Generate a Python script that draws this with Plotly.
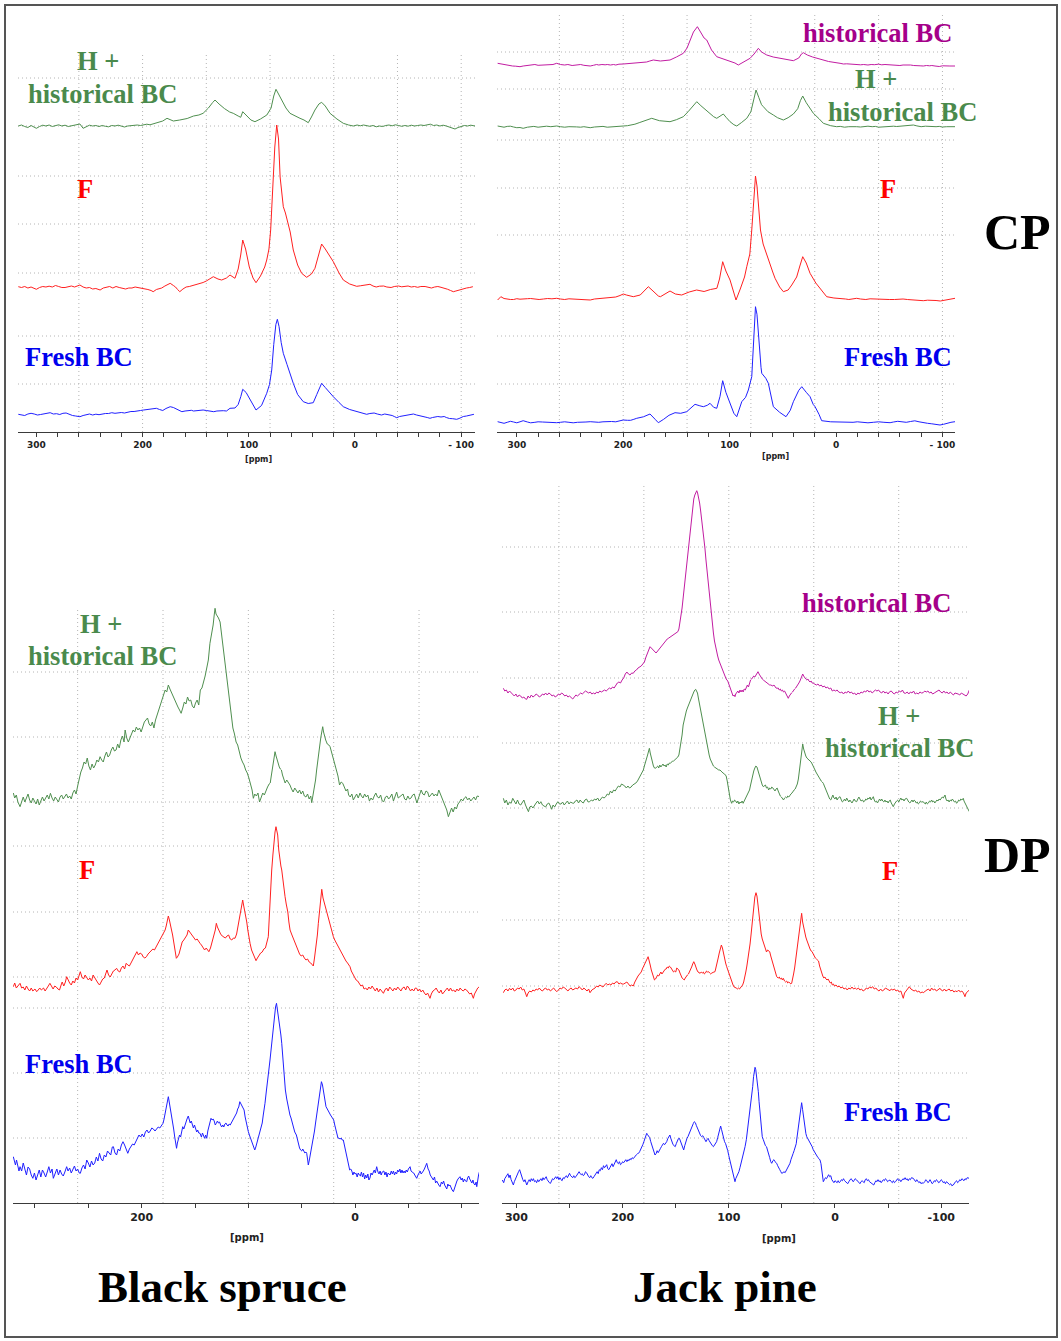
import plotly.graph_objects as go

W, H = 1061, 1341

# ---------------- spectra: (ppm, intensity a.u.) ----------------
# CP, black spruce
CP_BS_HBC = [(317,0),(314,1),(311,-0.5),(308,-1.5),(305,0.5),(302,-1),(300,-2.3),(297,-0.5),(294,0.8),(291,0),(288,1),(285,-0.5),(282,0.5),(279,1.2),(276,0),(273,0.8),(270,-0.5),(267,0),(264,1),(261,1.5),(259,2),(256,-2.3),(253,-0.5),(250,0.8),(247,0),(244,0.5),(241,-0.5),(238,0.5),(235,-0.3),(232,-0.8),(229,0.5),(226,0),(223,0.8),(220,-0.5),(217,-1),(214,0),(211,0.5),(208,0.3),(205,1),(202,0.5),(199,1),(196,1.8),(193,1.2),(190,2),(186,3),(181,5),(177,7.7),(171,5),(165,6),(158,7.5),(152,10),(147,11),(143,12.7),(138,18),(134,23.5),(131.8,26),(128,22),(123,17.5),(118,14),(114.6,12.7),(110,10),(107.6,8.7),(105.7,14.3),(102,10),(98,6),(94.2,4.3),(89,7),(83,11),(79,18),(76.5,30),(74.4,36.7),(72,32),(69,26),(65,18),(61.2,12.7),(56,9.5),(51.8,7.7),(48,6),(44,3.3),(41,9),(37.7,16),(34,22),(31.4,23.7),(28,20),(23.5,12.7),(17,7),(11,2.7),(6,1),(1.6,0),(-2,1),(-5,0.2),(-8,1),(-11,0.5),(-14,-0.3),(-17,0.5),(-20,-0.8),(-23,0),(-26,-0.5),(-29,0.5),(-32,1),(-35,0.2),(-38,1.2),(-41,0.5),(-44,-0.3),(-47,0.5),(-50,-0.2),(-53,0.8),(-56,0),(-59,0.5),(-62,1),(-65,0.5),(-68,1.2),(-71,1.8),(-74,0.5),(-77,1),(-80,0),(-83,0.8),(-86,0),(-89,-1),(-92,-2),(-94.2,-3),(-97,-1.5),(-100,-0.5),(-103,0.5),(-106,0),(-109,0.8),(-113,0)]
CP_BS_F = [(317,0.3),(314,-0.5),(311,0.5),(308,-1),(305,0),(302,-1.5),(300,-2.3),(297,-0.5),(294,0.5),(291,0),(288,0.8),(285,0),(282,1.5),(279,0.5),(276,-0.5),(273,-0.5),(270,0.5),(267,1),(264,0),(261,1.5),(259,2),(256,0),(253,-1),(250,-0.5),(247,-2),(244,-1.5),(241,-2.5),(240,-3),(237,-1),(234,0),(231,0.5),(228,-1),(225,0.5),(222,-0.5),(219,-1.5),(216,-2),(213,-1),(210,-1),(207,0),(204,-0.5),(201,-1),(198,-1.5),(195,-2.5),(192,-3.5),(190,-4.7),(187,-2.5),(184,-1.5),(182,-1),(179,1),(177,2),(174,3.7),(171,1.5),(169,0),(167,-2.5),(165,-4.7),(162,-2),(159,0),(156,0.5),(152,1.5),(149,2.5),(146,3.7),(143,4.5),(140,6),(133.4,10.3),(129,8),(125.5,7),(121,9),(117.7,12),(113,8.7),(110,18),(107.6,32),(105.7,47),(103,38),(99.5,20),(96,9),(93.2,4.3),(89,11),(85,20),(83.1,27),(81,38),(79.4,57),(77.5,100),(75.5,140),(73.7,162),(72,148),(70.5,110),(69,92),(67.5,80.3),(65.5,74),(63.7,67),(61,55),(58.1,37),(54,22),(50.2,13.7),(45.5,9.7),(41,13),(37.7,18.7),(34,33),(31.4,43),(28,38),(24,31),(20.4,25.3),(15,14),(11,7),(5,3),(-1.6,0.7),(-5,1.2),(-8,1.5),(-11,2),(-14.1,2.7),(-17,1),(-20,0),(-23,0.8),(-27,1),(-30,0),(-34,-0.5),(-37,0.5),(-41,1),(-44,0.2),(-47,0.8),(-50,1),(-53,0),(-56,0.5),(-59,-0.3),(-62,0.5),(-66,0.5),(-69,-0.5),(-72,-1),(-75,0),(-78,0.5),(-81,-0.3),(-84,-1),(-87,-2.2),(-90,-3.5),(-92.6,-4.7),(-95,-4),(-98,-3),(-101,-2),(-105,-1),(-108,-0.5),(-111,0.3)]
CP_BS_FRESH = [(317,0.2),(314,-0.5),(311,-1),(308,0.5),(305,1.2),(302,0.5),(299,-0.5),(296,0),(293,0.8),(290,1.2),(287,1.8),(284,0.5),(281,0.8),(278,0),(275,1.2),(272,1.5),(269,0),(266,-1),(263,-1.5),(260,-2),(259,-2.2),(256,-1),(253,0),(250,0.5),(247,-0.5),(244,0.3),(241,-0.2),(238,0.5),(235,1),(232,1),(229,1.8),(226,1.2),(223,1.8),(220,2),(217,1.5),(214,2.5),(211,3),(208,3),(205,3.8),(202,4),(199,4.5),(196,5),(193,5.5),(190,5.8),(187,6.2),(184,5),(181,4),(178,6),(176,7),(174,7.8),(171,7),(169,6),(166,4.5),(163,2.8),(160,3.5),(157,4),(154,4.2),(152,3.5),(149,4),(146,4.5),(143,4.5),(140,4),(137,3.5),(133,2.8),(130,3.5),(127,4),(124,3.8),(121,3.5),(119,5),(117.7,6.2),(113,6.5),(110,10),(107.5,18),(105.7,25.2),(102.5,22),(99.5,16.2),(96,9),(93.2,4.5),(88,9),(83.1,21.2),(80.5,30),(78.4,44.5),(76.5,70),(74.5,90),(73.1,95.2),(71.5,88),(69.5,72),(67.5,61.2),(64,50),(61,40),(58.1,31.2),(54,20),(48.7,12.8),(44,11),(39.3,11.8),(36,20),(33,28),(31.4,31.2),(28,27),(24,22),(20.4,17.8),(15,12),(11,7.8),(5,5),(-1.6,2.8),(-4,2),(-6,1.5),(-9,1),(-11,0.2),(-14,1),(-18,1.5),(-21,0.5),(-25,-0.5),(-28,0.5),(-32,0),(-35,-1),(-37,-2),(-39.3,-3.2),(-42,-2),(-45,-1.5),(-47,-1),(-50,0),(-53,0.5),(-55,0.5),(-58,-0.5),(-61,-1),(-63,-1.5),(-66,-2.5),(-68,-3),(-70.6,-3.8),(-73,-3),(-76,-2.5),(-78,-2),(-81,-2.5),(-84,-2),(-86,-3),(-89,-4),(-92,-4.2),(-95.7,-4.8),(-98,-4),(-100,-3),(-102,-2),(-105,-1.5),(-108,-0.5),(-110,0),(-112,0.2)]

# CP, jack pine
CP_JP_HIST = [(318,1.7),(315,1),(312,0.5),(310,0.5),(307,-0.5),(304,-1),(301,-1.2),(297,-1.7),(294,-1),(290,-0.5),(287,0),(283,0.5),(280,-0.3),(276,0),(273,0.5),(269,1),(266,0.5),(262.5,1.7),(259,0.5),(255,0),(252,0.5),(248,-0.5),(245,0),(242,0.3),(240,0.5),(237,-0.3),(234,-0.5),(231,-1),(228,-0.3),(225,0.5),(223,0),(220,0.5),(217,0.2),(215,0.5),(212,0),(209,0.5),(207,0),(204,0.8),(200,1),(197,1.2),(194,1.5),(192,1.5),(189,2),(185,2),(182,2.5),(178,3),(175,4),(171.7,5),(165,4),(160,4.5),(156,5),(150,8),(143.5,11.7),(140,17),(137.2,25),(134,33),(130.3,38.3),(127,33),(124,27),(121.5,25),(117,15),(112.1,8.3),(106,6),(99.6,4.3),(95,2),(91.8,0),(87,3),(83,5),(80.8,6.7),(77,11),(73,16.7),(70,13),(65.1,10),(59,8),(52.6,6.7),(46,5),(40.1,4.3),(35,7),(32.5,11),(30.7,12.3),(27,10),(22,8),(15,5.7),(7,3.5),(-3.8,1.7),(-7,1),(-10,1.2),(-12,1),(-15,0.5),(-19.4,0.7),(-23,0.2),(-26,0.5),(-30,0),(-33,0.5),(-36,0.3),(-40,0.8),(-43,0.2),(-46,0.5),(-50.8,0),(-54,0.3),(-57,-0.3),(-60,-0.5),(-63,0),(-66,0.3),(-70,0),(-73,-0.5),(-76,-0.3),(-79,-0.8),(-82,-1),(-85,-0.5),(-88,-0.8),(-90,-0.5),(-93,-1),(-97,-1.5),(-100,-0.8),(-104,-0.5),(-107,-1),(-111.8,-1)]
CP_JP_HBC = [(318,0.7),(315,0),(312,-0.5),(309,0.3),(306,0.5),(303,-0.3),(300,-1),(297,-0.8),(294,-1.6),(290,-0.5),(287,0),(284,0.3),(280,-0.5),(276,0),(272,0.5),(268,0),(265,0.5),(262.5,0.7),(259,0),(255,-0.5),(251,0),(247,0.3),(244,-0.2),(240,-0.5),(237,0),(234,-0.5),(231,-1),(227,-0.3),(223,0),(219,0.3),(215,-0.5),(211,0),(207,0.5),(203,0.3),(200,0.7),(196,1),(193,1.5),(189,2.5),(185,4),(179,6),(173.2,8.4),(166,6),(160,5.5),(156,5),(150,7),(143.5,10),(139,15),(135,20),(130.9,25),(127,21),(122,16),(118.4,13.4),(115,10),(112.1,8.4),(108,11),(105.9,12.7),(103,9),(99.6,5),(96,2),(93.3,0.7),(89,4),(83.9,8.4),(80,15),(77.5,28),(75.2,36.7),(72.5,29),(70,22),(68.3,20),(64,15),(58.9,11.7),(55,9),(49.5,6.7),(45,9),(40.1,12.7),(36,18),(33.5,26),(31.3,30.7),(28,24),(24.5,18),(21.3,13.4),(16,8),(11.9,3.4),(5,1),(-0.6,0),(-4,0.3),(-8,-0.5),(-12,0),(-15,0.3),(-19.4,0),(-23,-0.3),(-26,0.2),(-30,0.5),(-34,0),(-37,0.3),(-40,-0.5),(-44,0),(-47,0.3),(-50,0),(-54,0.5),(-57,0.2),(-60,0.5),(-64,1),(-68,1.2),(-72.7,1.7),(-76,0.8),(-80,0),(-84,0.5),(-87,0.2),(-90,0.5),(-94,0),(-97,0.3),(-100,-0.3),(-104,0),(-108,0.3),(-111.8,0)]
CP_JP_F = [(318,-1),(316.5,1),(315,2.3),(312,0.5),(310,0),(306,-0.5),(303,-0.5),(300,0.3),(297,-0.2),(294,-0.3),(290,0.3),(287,0.5),(283,0),(279,-0.5),(275,0),(271,0.5),(267,0.2),(262.5,0.7),(259,0),(255,-0.5),(251,0.2),(247,0),(243,-0.5),(239,-1),(235,-0.5),(231,-1),(227,0),(223,0.5),(219,0.5),(215,1),(211,1.5),(207,2),(203,3.5),(199.9,5),(197,4),(194,3),(190.5,2.3),(184,4),(180,8),(176.4,12.3),(172,8),(167,3),(165,2.3),(160,5),(156,8),(151,5),(145,4),(138,7),(131,9),(124,7.5),(118,9.5),(112,10.7),(109.5,20),(106.5,37.3),(103.5,28),(99.6,19),(96.5,8),(94,-1),(90,10),(86,22),(83.9,32.3),(81,45),(79.2,69),(77.2,105),(75.7,123),(74.3,113),(72.7,90),(71,69),(68.5,55),(66.7,49),(64,42),(62,35.7),(59.5,27),(57.3,20.7),(53,12),(49.5,7.3),(45,9),(41.6,14),(37,22),(34,33),(31.3,42.3),(28,36),(24.4,25.7),(19,16),(15,10.7),(8.8,2.3),(2,1),(-2,0.8),(-5,0.5),(-9,0),(-12,-0.5),(-16,0.2),(-19.4,0.7),(-23,0),(-28,-0.5),(-32,0.2),(-37,0),(-41,-0.5),(-46,-1),(-50,-0.5),(-55,-0.5),(-59,0),(-63,0),(-67,-0.5),(-72,-1),(-76,-0.8),(-79,-1.2),(-82,-1.7),(-86,-1.2),(-90,-1),(-94,-1.5),(-98,-2),(-101,-1.5),(-105,-0.5),(-108,0),(-111.8,0.7)]
CP_JP_FRESH = [(318,0.6),(315,-0.3),(312,-1),(309,0),(306,1),(303,0.3),(300,-0.5),(297,0.5),(294,1.6),(290,0.3),(287,-0.5),(283,0),(280,0.5),(276,0.3),(271,0),(267,-0.3),(262.5,-0.4),(259,0),(255,0.5),(251,0),(247,-0.5),(243,0),(239,0.5),(235,0.3),(231,0.6),(227,0.2),(223,0),(219,0.5),(215,1),(211,0.8),(207,0.5),(203,1.5),(200,2.3),(196,2),(193,2),(190,3),(187.3,4),(181,5.5),(176,8),(174.8,8.3),(170,3),(167,-0.4),(162,3),(157,7),(151.3,9.6),(146,9),(140.3,10.6),(136,15),(132.5,18),(128,16.5),(124.7,15.6),(121,17),(118.4,19),(115,15),(112.1,14),(109,26),(106.5,41.6),(103.5,30),(99.6,19),(96,9),(93.3,5.6),(90.5,15),(88.6,20.6),(85,25),(82.4,32.3),(79.2,45.6),(77.2,85),(75.7,115.6),(74.3,108),(72.5,80),(70.5,55),(69.8,49),(66,44),(63.6,39),(61,25),(58.9,15.6),(53,10),(47,5.6),(43,12),(40.1,20.6),(35,32),(32.2,35.6),(28,30),(24.4,25.6),(21.5,18),(19.7,15.6),(16,8),(13.5,1.6),(5,0.5),(1,0.3),(-3.8,0.6),(-8,0),(-12,-0.5),(-16,0),(-20,0.5),(-25,0),(-30,-0.5),(-35,0),(-40,0.5),(-45,0),(-50.8,-0.4),(-54,0.3),(-58,1),(-62,0.5),(-66,0),(-70,0.8),(-74,1.5),(-78,0.5),(-82,-0.5),(-86,-1),(-90,-1.5),(-94,-2),(-97.7,-2.7),(-101,-2),(-104,-1),(-108,0),(-111.8,0.6)]

# DP, black spruce
DP_BS_HBC = [(320.3,7),(319,2),(317.5,5),(316,-2),(314,-6.7),(312.5,-1),(311,3),(309.5,-2),(308,2),(306.5,6),(305,0),(303.5,-3),(302,2),(300.5,-2),(299,-4),(297.5,1),(296,-5),(294.5,-1),(293,3),(291.5,-1),(290,2),(288.5,5),(287,1),(285.5,6.7),(284,2),(282.5,-1),(281,3),(279.5,0),(278,-2),(276.5,3),(275,5),(273.5,1),(272,4),(270.5,6),(269,2),(267.5,4),(266,1),(264.5,7),(263,10),(261.5,6),(260,14),(258.5,22),(257,28),(255.5,32),(254,38),(252.5,36),(251,42),(249.5,34),(248,30),(246.5,36),(245,32),(243.5,35),(242,40),(240.5,38),(239,43.3),(237.5,40),(236,38),(234.5,44),(233,48),(231.5,43),(230,45),(228.5,50),(227,53),(225.5,49),(224,50),(222.5,56),(221,52),(219.5,60),(218,64),(216.5,58),(215.5,70),(214,62),(212.5,58),(211,62),(209.5,66),(208,70),(206.5,68),(205,73),(203.5,70),(202,72),(200.5,68),(199,74),(197.5,78),(196,80),(194.5,82),(193,76),(191.5,74),(190,78),(188.5,72),(187,80),(185.5,85),(184,90),(182.5,95),(181,100),(179.5,106),(178,110),(176.5,108),(175,115),(173.5,111),(172,107),(170.5,104),(169,100),(167.5,97),(166,93),(164.5,90),(163,86.7),(161.5,92),(160,98),(158.5,96),(157,103),(155.5,99),(154,100),(152.5,94),(151,92),(149.5,97),(148,100),(146.5,95),(145,110),(143.5,112),(142,117),(140.5,124),(139,132),(137.5,140),(136,156.7),(134.5,165),(133,175),(132,185),(131.2,191.7),(130.3,186),(129.5,185),(128,182),(126.5,178),(125,165),(123.5,150),(122,138),(120.5,124),(119,110),(117.5,97),(116,86),(114.5,72),(113,66),(111.5,58),(110,55),(108.5,47),(107,42),(105.5,38),(104,35),(102.5,30),(101,27),(99.5,22),(98,16),(96.5,10),(95.3,1.7),(94,6),(92.5,4),(91,7),(89.5,-2),(88,3),(86.5,7),(85,5),(83.5,10),(82,13),(80.5,16),(79.5,17),(78.5,24),(77.5,30),(76.5,38),(75.5,45),(75,48.3),(74,44),(73,40),(72,36),(71,33),(70,31),(69,30),(68,25),(67,22),(65.5,17),(64,20),(62.5,18),(61,15),(59.5,11),(58,8),(56.5,12),(55,10),(53.5,7),(52,10),(50.5,6),(49,9),(47.5,4),(46,3),(44.5,6),(43,1),(41.5,4),(40.6,-2.7),(39.5,4),(38,10),(37,20),(36,30),(35,40),(34,48),(33,55),(32,63),(31,70),(30.3,73.3),(29.5,68),(28.5,62),(27.5,60),(26,56),(24.5,55),(23.4,53.3),(22,47),(20.5,40),(19,36),(17.5,30),(16,24),(14.5,15),(13,18),(11.5,16.7),(10,12),(8.5,9),(7,11),(6,5),(4.5,3),(3,6),(1.6,0),(0,4),(-1.5,6),(-3,2),(-4.7,7),(-6,4),(-7.5,2),(-9,6),(-10.5,3),(-12,5),(-13.5,-1),(-15,2),(-16.5,0),(-18,4),(-19.5,7),(-21,3),(-22.5,2),(-24,5),(-25.5,-1),(-27,-1.7),(-28.5,3),(-30,4),(-31.5,1),(-33,3),(-34.5,6),(-36,-1),(-37.5,3),(-39,8),(-40.5,2),(-42,3.3),(-43.5,5),(-45,6),(-46.5,1),(-48,0),(-49.5,4),(-51,1),(-52.5,2),(-54,5),(-55.5,6),(-57,-1),(-58,-3),(-59.5,2),(-61,6),(-62,10),(-63.5,6),(-65,5),(-66.5,9),(-68,8),(-69.5,3),(-71,5),(-72.5,7),(-74,4),(-75.5,6),(-77,4),(-78.5,10),(-80,6),(-81.5,2),(-83,0),(-84.5,-5),(-86,-10),(-87.5,-16.7),(-89,-11),(-90.5,-8),(-92,-12),(-93.5,-7),(-95,-9),(-96.5,-4),(-98,-2),(-99.5,1),(-101,-1),(-102.5,2),(-104,3.3),(-105.5,0),(-107,2),(-108.5,-1),(-110,1),(-111.5,3),(-113,0),(-114.5,4),(-116.6,3.3)]
DP_BS_F = [(320.3,3.3),(319,7),(317.5,2),(316,4),(314,6.7),(312.5,2),(311,3),(309.5,0),(308,4),(306.5,1),(305,-1),(303.5,2),(302,-1),(300,1),(298.4,-1.7),(297,0),(295.5,2),(294,0),(292,2),(290.5,-1),(289,1),(287.5,4),(286,6.7),(284.5,3),(283,1),(281.5,4),(280,3),(278.5,1),(277,0),(275.5,5),(274.5,8),(273,4),(271.5,8),(270.3,13.3),(269,10),(267.5,7),(266,5),(264.5,9),(263,7),(261.5,12),(260,10),(258.5,14),(257.5,18.3),(256,13),(254.5,11),(253,15),(251.5,13),(250,10),(248.5,12),(247,9),(245.5,15),(244,12),(242.5,10),(241,7),(239.5,5),(238,9),(236.5,11),(235,12),(233.5,17),(232.5,20),(231,15),(229.5,13),(228,16),(226.5,19),(225,20),(223.5,21.7),(222,19),(220.5,18),(219,22),(217.5,24),(216,21),(214.5,26.7),(213,25),(211.5,24),(210,27),(208.5,30),(207,32),(205.5,35),(204.5,38.3),(203,35),(201.5,37),(200,36),(198.5,33),(197,32),(195.5,33.3),(194,36),(192.5,38),(191,39),(189.5,41),(188,40),(186.5,44),(185,46),(183.5,49),(182,52),(180.5,56),(179,58),(178,60),(177,64),(176,68),(175,74),(174,70),(173,66),(172,60),(171,55),(170,47),(169,40),(168,34),(167.5,31.7),(166.5,33),(165,36),(163.5,42),(162,48),(160.5,50),(159,52),(157.5,55),(156.3,60),(155,58),(154,56),(152.5,54),(151,52),(149.5,50),(148,51),(146.5,48),(145.3,46.7),(144,45),(142.5,43),(141,40),(139.5,42),(138,39),(137,38.3),(135.5,42),(134,47),(133,52),(132,56),(131,60),(130,66.7),(129,63),(128,60),(127,57),(126,56),(124.5,54),(123,53.3),(121.5,52),(120,54),(118.5,55),(117,51),(115.5,50),(114,52),(112.5,51.7),(111,56),(110,62),(109,68),(108,73),(107,78),(106,84),(105.3,90),(104.5,85),(103.5,80),(102.5,74),(101.5,68),(100.5,60),(99.5,52),(98.4,46.7),(97,40),(95.5,36),(94,33),(92.8,29.3),(91.5,32),(90,35),(88.5,37),(87,38),(85.5,41),(84,42),(82.5,47),(81.3,53.3),(80.5,70),(79.7,90),(79,105),(78.1,120),(77,135),(76,150),(75,158),(74.1,163.3),(73.2,160),(72.5,155),(71.5,140),(70.5,130),(69.5,124),(68.7,120),(67.5,108),(66.5,100),(65.6,93.3),(64.5,86),(63,78),(62,68),(60.9,60),(59.5,56),(58,52),(56.5,48),(55,45),(53.5,40),(52,36),(50.5,34),(49,35),(47.5,32),(46,30),(44.5,31),(43,28),(41.5,27),(40,25),(39.1,24),(38,32),(37,40),(36,48),(35.3,55),(34.4,66.7),(33.5,78),(32.5,90),(31.2,100.7),(30,92),(29,88),(28,84),(26.6,76.7),(25,70),(23.5,64),(22,58),(20.3,53.3),(19,50),(17.5,47),(16,44),(14.5,40),(13,37),(11.5,34),(10,31),(8.5,29),(7,27),(5.5,25),(4.7,23.3),(3.5,19),(2,16),(0.5,13),(-1,10),(-2.5,9),(-4,6.7),(-5.5,4),(-7,5),(-8.5,1),(-10,2),(-11.5,0),(-13,3),(-14.5,1),(-16,4),(-17.5,2),(-19,-1),(-20.5,2),(-22,-2),(-23.5,1),(-25,-1),(-26.6,-3.3),(-28,0),(-29.5,2),(-31,-1),(-32.5,3),(-34,1),(-35.5,-1),(-37,2),(-38.5,0),(-40,3),(-41.5,1),(-43,-1),(-44.5,2),(-46,3),(-47.5,0),(-49,4),(-50.5,2),(-52,-1),(-53.5,1),(-55,-1),(-56.5,2),(-57.8,1.7),(-59,-1),(-60.5,1),(-62,-2),(-63.5,0),(-65,-3),(-66.5,-5),(-68,-3),(-69.5,-7),(-70.3,-8.3),(-71.5,-4),(-73,-1),(-74.5,0),(-76,2),(-77.5,-1),(-79,-3),(-80.5,0),(-82,-4),(-83.5,-2),(-85,0),(-86.5,2),(-88,-1),(-89.5,2),(-91,-1),(-92.5,0),(-94,-2),(-95.5,1),(-97,-1),(-98.5,2),(-100,0),(-101.5,-1),(-103,1),(-104.5,0),(-106,-2),(-107.5,-4),(-109,-3),(-110.9,-8.3),(-112,-4),(-113.5,0),(-115,2),(-116.6,3.3)]
DP_BS_FRESH = [(320.3,18.3),(319.3,14),(318.3,10),(317.3,15),(316,10),(315,4),(314,8.3),(312.5,4),(311,12),(309.5,6),(308,0),(306.5,8),(305,6),(303.5,0),(302,-3.3),(300.5,2),(299,-5),(297.5,0),(296,5),(294.5,-2),(293,5),(291.5,2),(290,-2),(288.5,3),(287,8.3),(285.5,2),(284,6),(282.8,-3.3),(281,2),(279.5,6),(278,0),(276.5,5),(275,1),(273.5,-1),(272,3),(270.3,8.3),(269,4),(267.5,7),(266,2),(264.5,6),(263,9),(261.5,4),(260,6),(258.5,2),(257.5,1.7),(256,7),(254.5,10),(253,6),(251.5,15),(250,12),(248.5,8),(247,14),(245.5,10),(244,12),(242.5,18),(241,14),(239.5,21.7),(238,16),(236.5,14),(235,20),(233.5,18),(232,24),(230.5,22),(229,20),(227.5,28),(226.5,28.3),(225,22),(223.5,20),(222,26),(220.5,24),(219,30),(217.5,33.3),(216,30),(214.5,26),(213,21.7),(211.5,26),(210,28),(208.5,31),(207,30),(205.5,34),(204,36),(202.5,40),(201,38),(199.5,41),(198,38),(196.5,43),(195,45),(193.5,42),(192,44),(190.5,47),(189,46),(187.5,44),(186,46),(184.5,48),(183,47),(181.5,50),(180,51.7),(179,56),(178,62),(177,70),(176,75),(175,78.3),(174,72),(173,66),(172,60),(171,55),(170,46),(169,38),(168,30),(167.3,26.7),(166.5,32),(165.5,35),(164.5,40),(163.5,38),(162.5,44),(161.5,48.3),(160.5,46),(159.5,50),(158.5,52),(157.5,56),(156.3,59),(155.5,55),(154.5,52),(153.5,54),(152.5,50),(151.5,47),(150.5,50),(149.5,46),(148.4,43),(147.5,45),(146.5,42),(145.3,41.7),(144,38),(143,42),(142,38),(141,36.7),(140,40),(139,36.7),(138,44),(137,48),(136,52),(135,56.7),(134,55),(133,56),(132,54),(131,50),(130,51.7),(129,54),(128,52),(127,53),(126,50),(125,48),(124,50),(123,48),(122,51),(121,52),(120,50),(119,49),(118,51),(117,50),(116,52),(115,54),(114,56),(113,58),(112,60),(111,62),(110,66),(109,68),(108,73.3),(107,71),(106,70),(105,67),(104,65),(103,58),(102,52),(101,47),(100,43.3),(99,40),(98,37),(97,34),(96,30),(95,28),(94,25),(93,28),(92,32),(91,36),(90,40),(89,41.7),(88,46),(87,52),(86,60),(85,66),(84.4,71.7),(83,85),(82,92),(81,103),(79.7,115),(78.8,125),(78,135),(77,145),(76.2,155),(75.3,163),(74.5,168),(73.6,171.7),(72.8,166),(72,162),(71.2,155),(70.3,150),(69.5,140),(68.7,131.7),(68,120),(67,105),(66,92),(65.3,85),(64,76),(63,70),(62,65),(61,60),(60,57),(59,52),(57.8,46.7),(56.5,43),(55,40),(54,36),(53,30),(52,27),(51,25),(50,24),(49,26),(48,24),(47,22),(46,23),(45.3,21.7),(44.5,16),(43.8,10),(43,14),(42,20),(41,25),(40,30),(39,35),(38,44),(37,52),(36,60),(35,68),(34.2,75),(33.2,82),(32.4,88),(31.5,93.3),(30.5,90),(29.8,86),(29,80),(28,74),(27.2,68.3),(26,66),(25,63),(24,62),(23,60),(22,58),(21,56),(20,55),(19,50),(18,45),(17,40),(16,37),(15,36.7),(14,36),(13,37),(12,35),(11,35),(10,30),(9,22),(8,18),(7,12),(6,8.3),(5,5),(4,6),(3,4),(2,0),(1,3),(0,1),(-1,1.7),(-2,-2),(-3,2),(-4,0),(-5,-1),(-6,3),(-7,-2),(-8,2),(-9,-4),(-10,0),(-11,-3),(-12,1),(-13,-5),(-14,-3),(-15,2),(-16,0),(-17,2),(-18,5),(-19,2),(-20.3,8.3),(-21.5,3),(-22.5,1),(-23.5,4),(-24.5,0),(-25.5,3),(-27,4),(-28,0),(-29,3),(-30,-2),(-31,2),(-32.8,0),(-34,4),(-35,1),(-36,4),(-37,0),(-38,3),(-39,1),(-40,5),(-41,3),(-42,6),(-43,2),(-44,5),(-45,2),(-46,4),(-47,2),(-48,5),(-49,3),(-50,6),(-51.6,8.3),(-52.5,4),(-53.5,3),(-55,2),(-56,0),(-57,-2),(-57.8,-3.3),(-59,0),(-60,3),(-61,4),(-62,1),(-63,2),(-64,4),(-65,6),(-66,9),(-67.2,11.7),(-68.5,6),(-69.5,4),(-70.5,0),(-71.5,-2),(-72.5,-3),(-73.4,-5),(-74.5,-2),(-75.5,-8),(-76.5,-6),(-77.5,-9),(-78.5,-10),(-79.7,-11.7),(-81,-7),(-82,-9),(-83,-6),(-84,-10),(-85,-12),(-86,-14),(-87,-9),(-88,-11),(-89,-10),(-90,-13),(-91,-15),(-92.2,-16.7),(-93.5,-12),(-94.5,-9),(-95.5,-6),(-96.5,-4),(-97.5,-3),(-98.4,-1.7),(-99.5,-5),(-100.5,-3),(-101.5,-7),(-102.5,-4),(-103.5,-6),(-104.7,-6.7),(-105.5,-3),(-106.5,-1),(-107.5,-4),(-108.5,-6),(-109.5,-8),(-110.5,-5),(-111.5,-9),(-112.5,-10),(-113.5,-7),(-114.1,-11.7),(-115,-4),(-115.8,0),(-116.6,3.3)]

# DP, jack pine
DP_JP_HIST = [(312.3,4.7),(311,2),(309.5,3),(308,0),(306.5,2),(305,0),(303.5,-1),(302,-3),(300.5,-1),(299,-4),(297.5,-2),(296,-3),(294.5,-5),(293,-4),(291.5,-6),(290.3,-6.3),(289,-3),(287.5,-5),(286,-2),(284.5,-4),(283,-3),(281.5,-1),(280,-2),(278.5,-4),(277,-3),(275.5,-1),(274,-2),(272.5,0),(271,-2),(269.5,0),(268,-1),(266.5,-3),(265,-2),(263.5,-4),(262,-3),(260.5,-1),(259,-2),(257.5,0),(256,-1),(254.5,-3),(253,-2),(251.5,-4),(250,-3),(248.5,-5),(247,-6),(245.5,-4),(244,-2),(242.5,-3),(241,-1),(239.5,0),(238,-1),(236.5,1),(235,2),(233.5,1),(232,0),(230.5,1),(229,-1),(227.5,0),(226,-1),(224.5,1),(223,0),(221.5,2),(220,1),(218.5,2),(217,3),(215.5,2),(214,4),(212.5,5),(211,4),(209.5,6),(208,5),(206.5,8),(205,10),(203.5,11),(202,10),(200.5,13),(199,15),(197.5,19),(196,21),(194.5,19),(193,18),(191.5,20),(190,19.7),(188.5,22),(187,23),(185.5,25),(184,26),(182.5,27),(181,29),(179.5,31),(178,36),(176.5,40),(175,44),(174.2,46.3),(173,45),(171.5,43),(170,41),(168.5,40),(167,42),(165.5,44),(164,46),(162.5,48),(161,51),(159.5,53),(158,54),(156.5,55),(155,56),(153.5,57),(152,58),(150.5,59),(149,60),(148,61.3),(147,64),(146,70),(145,76),(144,85),(143,95),(142,105),(141,116),(140,125),(139,135),(138,146),(137,157),(136,168),(135,178),(134,187),(133,194),(132,198),(131,201),(130.2,202.3),(129.4,200),(128.5,196),(127.5,190),(126.5,182),(125.5,174),(124.5,165),(123.5,155),(122.5,145),(121.5,133),(120.5,122),(119.5,110),(118.5,99),(117.5,89),(116.5,78),(115.5,68),(114.5,60),(113.5,52),(112.5,46),(111.5,41),(110.5,37),(109.5,33),(108.3,29.7),(107,25),(105.5,21),(104,17),(102.5,14),(101,12),(99.5,8),(98,4),(97,0),(96,-3),(95,-2),(94.2,-3.7),(93.5,-1),(92.5,0),(91.5,2),(90.5,0),(89.5,3),(88.5,1),(87.5,3),(86.5,1),(85.5,4),(84.5,3),(83.5,6),(82.5,8),(81.5,6),(80.5,10),(79.5,13),(78.5,14),(77.5,16),(76.5,17),(75.5,16),(74.5,18),(73.5,20),(72.5,21.3),(71.5,19),(70.5,17),(69.5,16),(68.5,14),(67.5,13),(66.5,12),(65.5,11),(64.5,10),(63.5,9),(62.5,9),(61.5,8),(60.5,8),(59.5,7),(58.5,7),(57.5,8),(56.5,6),(55.5,5),(54.5,4.7),(53.5,5),(52.5,3),(51.5,4),(50.5,2),(49.5,3),(48.5,1),(47.5,2),(46.5,0),(45.5,-2),(44.5,-4),(44,-5.3),(43,-3),(42,-1),(41,0),(40,1),(39,3),(38,4),(37,5),(36,6.3),(35,8),(34,10),(33,12),(32,15),(31,18),(30.4,19),(29.5,17),(28.5,15),(27.5,14),(26.5,13),(25.5,14),(24.5,12),(23.5,11),(22.5,12),(21.5,10),(20.4,9.7),(19,9),(17.5,8),(16,9),(14.5,7),(13,8),(11.5,6),(10,7),(8.5,5),(7,6),(5.5,4),(4,5),(2.5,2),(1,3),(-0.5,2),(-2,3),(-3.5,1),(-5,0.3),(-6.5,1),(-8,-1),(-9.5,1),(-11,0),(-12.5,2),(-14,0),(-15.5,1),(-17,-1),(-18.5,0),(-20,-2),(-21.5,0),(-23,-1),(-24.5,1),(-26,0),(-27.5,2),(-29,1),(-30.5,3),(-32,1),(-33.5,2),(-35,0),(-36.5,1.3),(-38,3),(-39.5,2),(-41,3),(-42.5,1),(-44,0),(-45.5,2),(-47,0),(-48.5,1),(-50,-1),(-51.5,1.3),(-53,2),(-54.5,0),(-56,-1),(-57.5,1),(-59,0),(-60.5,2),(-62,1),(-63.5,3),(-65,0),(-66.5,-0.3),(-68,1),(-69.5,-1),(-71,1),(-72.5,0),(-74,2),(-75.5,-1),(-77,0),(-78.5,-1),(-80,1),(-81.5,0),(-83,0.3),(-84.5,2),(-86,1),(-87.5,2),(-89,0),(-90.5,1),(-92,-1),(-93.5,0),(-95,1),(-96.5,2),(-98,3),(-99.5,1),(-101,0),(-102.5,2),(-104,0),(-105.5,1),(-107,-1),(-108.5,1),(-110,-1),(-111.5,-2),(-113,0),(-114.5,-0.3),(-116,-1),(-117.5,-2),(-119,0),(-120.5,-1),(-122,-2),(-123.5,-3),(-125,-1),(-126.5,3)]
DP_JP_HBC = [(312.3,4.7),(311,0),(309.5,3),(308,-2),(306.5,1),(305,-0.3),(303.5,4.7),(302,2),(300.5,-1),(299,3),(297.5,-1),(296,-2),(294.5,1),(293,3),(291.5,-2),(290,-5),(288.7,-8.7),(287.5,-4),(286,-3),(284.5,-5),(283,-2),(281.5,0),(280,2),(278.5,-1),(277,1.3),(275.5,-2),(274,-3),(272.5,-4),(271,-1),(269.5,0),(268,-3),(266.8,-6.3),(265.5,-2),(264,-4),(262.5,-1),(261,1.3),(259.5,-1),(258,-1),(256.5,1),(255,-2),(253.5,0),(252,2),(250.5,-1),(249,1),(247.5,0),(246,-0.3),(244.5,2),(243,3),(241.5,0),(240,3),(238.5,1),(237,0),(235.5,3),(234,4),(232.5,1),(231,1.3),(229.5,3),(228,2),(226.5,4),(225,3),(223.5,5),(222,2),(220.5,4),(219,6),(217.5,5),(216,6.3),(214.5,9),(213,8),(211.5,12),(210,10),(208.5,13),(207,12),(205.5,14.7),(204,17),(202.5,16),(201,19),(199.5,18),(198,17),(196.5,15),(195,17),(193.5,15),(192,16),(190.5,18),(189,19),(187.5,20),(186,22),(184.5,25),(183,28),(181.5,30),(180.5,33),(179.5,37),(178.5,40),(177.5,45),(176.5,48),(175.5,52),(174.8,54.7),(174,50),(173,45),(172,40),(171,37),(170,35),(169,34.7),(168,36),(167,37),(166,35),(165,38),(164,36),(163,38),(162,39),(161,37),(160,38),(159,36),(158,39),(157,38),(156,40),(155,39.7),(154,41),(153,42),(152,42),(151,43),(150,44),(149,44),(148,46),(147,48),(146,54),(145,60),(144,68),(143,78),(142,84),(141,88),(140,92),(139,95),(138,98),(137,100),(136,103),(135,106),(134,108),(133,111),(132,113),(131.2,113.7),(130.4,112),(129.5,110),(128.5,104),(127.5,98),(126.5,92),(125.5,86),(124.5,82),(123.5,77),(122.5,70),(121.5,63),(120.5,58),(119.5,52),(118.5,48),(117.5,44),(116.5,41),(115.5,38),(114.5,37),(113.5,36),(112.5,35),(111.5,34),(110.5,34),(109.5,33),(108.3,33),(107,31),(105.5,30),(104,29),(102.5,27),(101.5,22),(100.5,15),(99.5,8),(98.5,3),(97.3,-0.3),(96.5,2),(95.5,1),(94.5,3),(93.5,2),(92.5,0),(91.5,2),(90.5,-1),(89.5,1),(88.5,0),(87.5,2),(86.5,-0.3),(85.5,2),(84.5,4),(83.5,6),(82.5,8),(81.5,9.7),(80.5,13),(79.5,18),(78.5,24),(77.5,28),(76.5,32),(75.5,35),(74.5,37),(73.5,36),(72.5,32),(71.5,28),(70.5,25),(69.5,22),(68.5,18),(67.5,16.3),(66.5,17),(65.5,18),(64.5,15),(63.5,16),(62.5,13),(61.5,15),(60.5,14),(59.5,16),(58.5,15),(57.5,13),(56.5,12),(55.5,14),(54.5,15),(53.5,12),(52.5,9),(51.5,7),(50.5,6),(49.5,4),(48.5,3),(47.5,5),(46.5,6),(45.5,5),(44.5,7),(43.5,6),(42.5,8),(41.5,9),(40.5,10),(39.5,12),(38.5,13),(37.5,14),(36.5,16),(35.5,19),(34.5,24),(33.6,33),(32.8,42),(32,48),(31.2,55),(30.4,59),(29.5,54),(28.5,50),(27.5,47),(26.5,45),(25.5,44),(24.5,44),(23.5,43),(22.5,41),(21.5,39),(20.5,36),(19.5,34),(18.8,33),(18,31),(17,29),(16,27),(15,25),(14,23),(13,22),(12,21),(11,19.7),(10,17),(9,14),(8,11),(7,8),(6,6),(5,4),(4,3),(3,6),(2,8),(1,5),(0,4),(-1,6),(-2,3),(-3,5),(-4.7,6.3),(-6,3),(-7,1),(-8,2),(-9,4),(-10,2),(-11,5),(-12,3),(-13,1),(-14,3),(-15,1),(-16,0),(-17,2),(-18,4),(-19,2),(-20.4,1.3),(-21.5,4),(-22.5,6),(-23.5,4),(-24.5,2),(-26,3),(-27,1),(-28,2),(-29,4),(-30,3),(-31,5),(-32,4),(-33,6),(-34,3),(-35,5),(-36.1,6.3),(-37,3),(-38,1),(-39,2),(-40,0),(-41,2),(-42,4),(-43,2),(-44,4),(-45,2),(-46,1),(-47,3),(-48,1),(-49,2),(-50,0),(-51,2),(-52,3),(-53,0),(-54,-2),(-54.9,-3.7),(-56,-1),(-57,1),(-58,2),(-59,3),(-60,1),(-61,3),(-62,5),(-63,3),(-64,4),(-65,2),(-66,4),(-67.5,4.7),(-68.5,2),(-69.5,1),(-70.5,0),(-71.5,2),(-72.5,3),(-73.5,1),(-74.5,3),(-75.5,2),(-76.5,0),(-77.5,1),(-78.5,-1),(-79.5,0),(-80.5,2),(-81.5,1),(-83.1,1.3),(-84,0),(-85,-1),(-86,1),(-87,-1),(-88,0),(-89,2),(-90,1),(-91,3),(-92,1),(-93,2),(-94,0),(-95,1),(-96,3),(-97,2),(-98,4),(-99,3),(-100,5),(-101,6),(-102,5),(-103.6,8),(-104.5,4),(-105.5,2),(-106.5,3),(-107.5,1),(-108.5,3),(-109.5,2),(-110.5,4),(-111.5,3),(-112.5,1),(-113.5,2),(-114.5,-0.3),(-115.5,1),(-116.5,3),(-117.5,2),(-118.5,4),(-119.5,3),(-120.8,4.7),(-121.5,2),(-122.5,0),(-123.5,-2),(-124.5,-4),(-125.5,-6),(-126.5,-8.7)]
DP_JP_F = [(312.3,-2.7),(311,0),(309.5,1),(308,-1),(306.5,1.7),(305,0),(303.5,2),(302,-1),(300.5,0),(299,2),(297.5,1),(296,3),(294.5,0),(293,1),(291.5,-3),(290.3,-6.7),(289,-3),(287.5,-1),(286,-2),(284.5,0),(283,-1),(281.5,1),(280,0),(278.5,2),(277,0),(275.5,-1),(274,1),(272.5,2),(271,0),(269.5,1),(268,-1),(266.5,1),(265,2),(263.5,0),(262,-1.7),(260.5,0),(259,2),(257.5,1),(256,3),(254.5,2),(253,0),(251.5,-1),(250,1),(248.5,2),(247,0),(245.5,1),(244,2),(242.5,1),(241,3.3),(239.5,2),(238,0),(236.5,2),(235,0),(233.5,-1),(232,1),(230.7,-2.7),(229,0),(227.5,1),(226,2),(224.5,4),(223,3),(221.5,5),(220,4),(218.5,3),(217,5),(215.5,6.7),(214,5),(212.5,6),(211,5),(209.5,7),(208,6),(206.5,8),(205,8.3),(203.5,6),(202,7),(200.5,6),(199,6),(197.5,7),(196,8),(194.5,6),(193,4),(191.5,5),(190,4),(188.5,8),(187,12),(185.5,14),(184,16),(182.5,18),(181,22),(179.5,26),(178,29),(177,31),(176,33.3),(175,30),(174,25),(173,20),(172,16),(171,13),(170,10),(169,11),(168,13),(167,15),(166,14),(165,17),(164,18),(163,16),(162,18),(161,20),(160,20.7),(159,21),(158,23),(157,22),(156,24),(155,23),(154,21),(153,20),(152,18),(151,19),(150,18),(149,22),(148,21),(147,20),(146,17),(145,14),(144,12),(143,11),(142,10),(141,12),(140,14),(139,15),(138,16),(137,18),(136,20),(135,23),(134,26),(133,28.3),(132,26),(131,22),(130,20),(129,18),(128,17),(127,16.7),(126,18),(125,17),(124,18),(123,16),(122,17),(121,19),(120,18),(119,18.3),(118,17),(117,16),(116,17),(115,18),(114,18),(113,18.3),(112,22),(111,27),(110,32),(109,37),(108,41),(107,45),(106,42),(105,36),(104,31),(103,27),(102,23.3),(101,20),(100,17),(99,14),(98,11),(97,8),(96,5),(95,3),(94.2,2.7),(93,2),(92,1),(91,2),(90,1),(89,2),(88,3),(87,5),(86,8),(85,12),(84,18),(83,24),(82,30),(81,36),(80,46),(79,56),(78.4,63.3),(77.5,75),(76.5,86),(75.5,93),(74.4,97.3),(73.5,94),(72.5,85),(71.5,74),(70.5,64),(69.5,56),(68.5,51),(67.5,48),(66.5,45),(65.5,40),(64.5,38),(63.5,40),(62.5,39),(61.5,38.3),(60.5,34),(59.5,30),(58.5,27),(57.5,24),(56.5,18),(55.5,15),(54.9,13.3),(53.5,12),(52.5,13),(51.5,11),(50.5,12),(49.5,10),(48.7,11.7),(47.5,9),(46.5,8),(45.5,9),(44.5,7),(43.5,8),(42.5,7),(41.5,6),(40.8,6.7),(40,10),(39,16),(38,22),(37,30),(36.1,36.7),(35,45),(34,53),(33,62),(32.2,70),(31.4,76.7),(30.5,68),(29.5,62),(28.5,57),(27.5,53),(26.6,50),(25.5,46),(24.5,43),(23.5,41),(22.5,39),(21.5,38.3),(20.5,36),(19.5,33),(18.5,32),(17.5,31),(16.5,30),(15.5,29),(14.5,24),(13.5,20),(12.5,16),(11.5,14),(10.5,12),(9.5,13),(8.5,11),(7.5,10),(6.5,11),(5.5,8),(4.5,7),(3.5,8),(2.5,5),(1.5,6),(0.5,4),(-1,5),(-2.5,3),(-4,4),(-5.5,2),(-7,3),(-8.5,1),(-10,2),(-11.5,0),(-13,2),(-14.5,1),(-16,3),(-17.5,1),(-19,2),(-20.4,0.7),(-22,2),(-23.5,0),(-25,1),(-26.5,-1),(-28,0),(-29.5,2),(-31,1),(-32.5,3),(-34,2),(-35.5,3.3),(-37,1),(-38.5,2),(-40,0),(-41.5,-1),(-43,1),(-44.5,-1),(-46,0),(-47.5,2),(-49,1),(-50.5,0),(-51.8,-0.7),(-53,1),(-54.5,0),(-56,1),(-57.5,-1),(-59,0),(-60.5,-2),(-62,-1),(-63.5,-5),(-64.3,-8.3),(-65.5,-3),(-67,-1),(-68.5,1),(-70,3.3),(-71.5,1),(-73,0),(-74.5,-1),(-76,0),(-77.5,-2),(-79,-1),(-80.5,-3),(-82,-2),(-83.5,-2.7),(-85,-1),(-86.5,0),(-88,1),(-89.5,-1),(-91,2),(-92.5,0),(-94,1),(-95.5,-1),(-97,0),(-98.9,1.7),(-100,0),(-101.5,-1),(-103,1),(-104.5,-1),(-106,0),(-107.5,1),(-109,-1),(-110.5,0),(-112,-2),(-113.5,-1),(-115,-1.7),(-116.5,0),(-118,-2),(-119.5,-1),(-121,-3),(-122.4,-6.7),(-123.5,-3),(-125,-1),(-126.5,0)]
DP_JP_FRESH = [(313.3,1.7),(312,-1),(311,3),(310,5),(309,6),(308,8),(307,4),(306,6.7),(305,2),(304,-1),(302.9,-3.3),(302,0),(301,3),(300,6),(299,8),(298,10),(297,12),(296,8),(295,4),(294,2),(293,0),(292,2),(291,-1),(290.3,-3.3),(289,0),(288,2),(287,0),(286,3),(285,1),(284,3),(283,0),(282,1),(281,-1),(280,2),(279,0),(278,1.7),(277,3),(276,1),(275,4),(274,2),(273,4),(272,5),(271,2),(270,0),(269,-1),(268,-1.7),(267,1),(266,3),(265,2),(264,4),(263,5),(262,3),(261,5),(260,2),(259,4),(258,2),(257,1),(256,4),(255,3),(254,5),(253,6),(252,4),(251,7),(250,8.4),(249,6),(248,5),(247,4),(246,6),(245,4),(244,5),(243,7),(242,9),(241,10),(240,8),(239,7),(238,8),(237,6),(236,7),(235,10),(234,9),(233,6),(232,5),(231,4),(230,6),(229,4),(228,3.4),(227,5),(226,7),(225,9),(224,10),(223,8),(222,12),(221,11),(220,14),(219,12),(218,16),(217,14),(216,15),(215,17),(214,13),(213,12),(212,14),(211,16),(210,18),(209,15),(208,17),(207,20),(206,22),(205,19),(204,18),(203,20),(202,17),(201,18),(200,20),(199,19),(198,21),(197,22),(196,20),(195,22),(194,21),(193,23),(192,22),(191,24),(190,23),(189,24),(188,25),(187,27),(186,28),(185,28.4),(184,30),(183,32),(182,34),(181,37),(180,40),(179,44),(178,47),(177.3,48.4),(176.5,47),(175.5,46),(174.5,44),(173.5,40),(172.5,36),(171.5,32),(170.5,28),(169.5,26.7),(168.5,28),(167.5,31),(166.5,29),(165.5,32),(164.5,33),(163.5,35),(162.5,37),(161.5,38.4),(160.5,37),(159.5,38),(158.5,40),(157.5,43),(156.5,45),(155.5,46.7),(154.5,43),(153.5,39),(152.5,37),(151.5,36),(150.5,35),(149.5,38),(148.5,41),(147.5,43),(146.5,43.4),(145.5,40),(144.5,36),(143.5,33),(142.5,31.7),(141.5,36),(140.5,40),(139.5,43),(138.5,45),(137.5,48),(136.5,51),(135.5,53),(134.5,56),(133.5,58),(132.5,60),(131.5,59),(130.5,56),(129.5,53),(128.5,50),(127.5,48),(126.5,46),(125.5,45),(124.5,46),(123.5,44),(122.5,42),(121.5,40),(120.5,42),(119.5,43.4),(118.5,41),(117.5,39),(116.5,37),(115.5,36),(114.5,35),(113.5,37),(112.5,38),(111.5,40),(110.5,44),(109.5,48),(108.5,52),(107.7,55.7),(106.8,52),(106,48),(105,44),(104,40),(103,38),(102,35),(101,31),(100,26),(99,22),(98,18),(97,14),(96,10),(95,5),(94.2,0),(93.5,3),(92.5,5),(91.5,8),(90.5,10),(89.5,14),(88.5,18),(87.5,22),(86.5,26),(85.5,30),(84.7,35),(83.5,42),(82.5,50),(81.5,58),(80.5,66),(80,71.7),(79,78),(78.2,85),(77.5,95),(76.7,105),(75.9,112),(75.3,114.4),(74.6,112),(73.8,106),(73,100),(72.2,90),(71.5,80),(70.7,70),(70,60),(69.3,50),(68.5,45),(67.5,42),(66.5,38),(65.5,36),(64.5,35),(63.5,32),(62.5,28),(61.5,24),(60.5,20),(59.6,18.4),(58.5,21),(57.5,22),(56.5,20),(55.5,19),(54.9,18.4),(54,16),(53,13),(52,12),(51,10),(50.2,8.4),(49,9),(48,10),(47,9),(46,11),(45,13),(44,15),(43,17),(42.4,18.4),(41.5,22),(40.5,26),(39.5,28),(38.5,31),(37.5,34),(36.5,38),(36.1,41.7),(35,50),(34,60),(33,68),(32.2,74),(31.4,79),(30.5,72),(29.7,65),(29,58),(28.2,52),(27.4,48),(26.6,45),(25.5,43),(24.5,41),(23.5,40),(22.5,38),(21.5,35),(20.5,32),(19.5,30),(18.8,28.4),(18,27),(17,25),(16,24),(15,23),(14.1,21.7),(13.2,18),(12.5,12),(11.8,6),(11,0),(10,2),(9,4),(8,3),(7,5),(6,7),(5,5),(4,6),(3,2),(2,0),(1,-1),(0,1),(-1,0),(-2,-1),(-3,1),(-4,-1),(-5,0),(-6,2),(-7,1),(-8,3),(-9,1),(-10,0),(-11,-1),(-12,-2),(-13,0),(-14,1),(-15,3),(-16,2),(-17,0),(-18,1),(-19,3),(-20.4,1.7),(-21.5,0),(-22.5,-1),(-23.5,-2),(-24.5,0),(-25.5,1),(-26.5,0),(-27.5,-1),(-28.5,2),(-29.5,3),(-30.5,1),(-31.5,2),(-32.5,0),(-33.5,-1),(-34.5,-2),(-35.5,-3),(-36.5,-3.3),(-37.5,-1),(-38.5,1),(-39.5,0),(-40.5,2),(-41.5,0),(-42.5,1),(-43.5,-1),(-44.5,0),(-45.5,2),(-46.5,1),(-47.5,3),(-48.5,2),(-49.5,0),(-50.5,1),(-51.8,1.7),(-53,0),(-54,-1),(-55,1),(-56,-1),(-57,0),(-58,2),(-59,3),(-60,1),(-61,2),(-62,0),(-63,1),(-64,3),(-65,2),(-66,4),(-67,2),(-68,3),(-69,1),(-70,3),(-71,2),(-72,4),(-73.7,3.4),(-75,1),(-76,0),(-77,2),(-78,0),(-79,-1),(-80,0),(-81,-2),(-82,-1),(-83.1,-1.7),(-84.5,0),(-85.5,2),(-86.5,1),(-87.5,-1),(-88.5,0),(-89.5,2),(-90.5,0),(-91.5,-2),(-92.5,-1),(-93.5,1),(-94.5,0),(-95.5,2),(-96.5,1),(-97.5,-1),(-98.9,0),(-100,2),(-101,1),(-102,-1),(-103,0),(-104,-2),(-105,0),(-106,-1),(-107,-2),(-108,-3),(-109,-2),(-110,-4),(-111.4,-3.3),(-112.5,-1),(-113.5,0),(-114.5,1),(-115.5,-1),(-116.5,0),(-117.5,2),(-118.5,1),(-119.5,3),(-120.5,2),(-121.5,1),(-122.5,3),(-123.5,2),(-124.5,4),(-126.5,3.4)]

# tick labels
CP_TICKS = [300, 200, 100, 0, -100]
CP_TICKTEXT = ["300", "200", "100", "0", "- 100"]
DP_BS_TICKS = [200, 0]
DP_BS_TICKTEXT = ["200", "0"]
DP_JP_TICKS = [300, 200, 100, 0, -100]
DP_JP_TICKTEXT = ["300", "200", "100", "0", "-100"]

# ---------------- colours ----------------
C_GREEN, T_GREEN = "#4f8f4f", "#4a8a4c"
C_RED, T_RED = "#ff2020", "#ff0000"
C_BLUE, T_BLUE = "#2020ff", "#0000ee"
C_MAG, T_MAG = "#c21ca2", "#a5008a"
GRID = "#b4b4b4"
SERIF = "Liberation Serif"
SANS = "DejaVu Sans"


def fx(px):
    return px / W


def fy(py):
    return 1 - py / H


# panel geometry (pixels) and ppm window
PANELS = {
    "cp_bs": dict(ax="x", ay="y", x0=18, x1=475, top=10, bottom=432, ppm=(317.3, -113.0)),
    "cp_jp": dict(ax="x2", ay="y2", x0=497, x1=955, top=10, bottom=432, ppm=(318.6, -111.8)),
    "dp_bs": dict(ax="x3", ay="y3", x0=13, x1=479, top=470, bottom=1203, ppm=(320.6, -116.2)),
    "dp_jp": dict(ax="x4", ay="y4", x0=502, x1=969, top=470, bottom=1203, ppm=(313.6, -126.2)),
}

# pixel row of each stacked spectrum's baseline
STACK = [
    ("cp_bs", CP_BS_HBC, C_GREEN, 126.0),
    ("cp_bs", CP_BS_F, C_RED, 287.0),
    ("cp_bs", CP_BS_FRESH, C_BLUE, 414.5),
    ("cp_jp", CP_JP_HIST, C_MAG, 65.0),
    ("cp_jp", CP_JP_HBC, C_GREEN, 126.7),
    ("cp_jp", CP_JP_F, C_RED, 299.0),
    ("cp_jp", CP_JP_FRESH, C_BLUE, 422.3),
    ("dp_bs", DP_BS_HBC, C_GREEN, 800.0),
    ("dp_bs", DP_BS_F, C_RED, 990.0),
    ("dp_bs", DP_BS_FRESH, C_BLUE, 1175.0),
    ("dp_jp", DP_JP_HIST, C_MAG, 693.0),
    ("dp_jp", DP_JP_HBC, C_GREEN, 803.0),
    ("dp_jp", DP_JP_F, C_RED, 990.0),
    ("dp_jp", DP_JP_FRESH, C_BLUE, 1181.7),
]

fig = go.Figure()

for key, spec, color, base_row in STACK:
    p = PANELS[key]
    offset = p["bottom"] - base_row
    ppm = [a for a, _ in spec]
    val = [b + offset for _, b in spec]
    fig.add_trace(go.Scatter(
        x=ppm, y=val, mode="lines", xaxis=p["ax"], yaxis=p["ay"],
        line=dict(color=color, width=1), showlegend=False, hoverinfo="skip",
    ))

axis_common = dict(
    showgrid=False, zeroline=False, showline=True, linecolor="#3a3a3a", linewidth=1,
    ticks="outside", ticklen=4, tickwidth=1, tickcolor="#3a3a3a", tickmode="array",
    fixedrange=True,
)


def tick_set(step, labelled, texts, lo, hi):
    vals, txt = [], []
    v = -300
    while v <= 400:
        if lo <= v <= hi:
            vals.append(v)
            txt.append(texts[labelled.index(v)] if v in labelled else "")
        v += step
    return vals, txt


layout = dict(
    width=W, height=H, margin=dict(l=0, r=0, t=0, b=0),
    paper_bgcolor="white", plot_bgcolor="rgba(0,0,0,0)",
)

tick_cfg = {
    "cp_bs": (20, CP_TICKS, CP_TICKTEXT, 9),
    "cp_jp": (20, CP_TICKS, CP_TICKTEXT, 9),
    "dp_bs": (50, DP_BS_TICKS, DP_BS_TICKTEXT, 11),
    "dp_jp": (50, DP_JP_TICKS, DP_JP_TICKTEXT, 11),
}

for key, p in PANELS.items():
    step, lab, txt, fs = tick_cfg[key]
    lo, hi = min(p["ppm"]), max(p["ppm"])
    tv, tt = tick_set(step, lab, txt, lo, hi)
    xname = "xaxis" if p["ax"] == "x" else "xaxis" + p["ax"][1:]
    yname = "yaxis" if p["ay"] == "y" else "yaxis" + p["ay"][1:]
    layout[xname] = dict(
        axis_common, domain=[fx(p["x0"]), fx(p["x1"])], range=list(p["ppm"]),
        anchor=p["ay"], tickvals=tv, ticktext=tt,
        tickfont=dict(family=SANS, size=fs, color="#222222", weight="bold"),
    )
    layout[yname] = dict(
        domain=[fy(p["bottom"]), fy(p["top"])], range=[0, p["bottom"] - p["top"]],
        visible=False, anchor=p["ax"], fixedrange=True,
    )

fig.update_layout(**layout)

# dotted grid
shapes = []
DOT = "1px,3px"


def vgrid(key, ppms, y_top, y_bot):
    p = PANELS[key]
    for v in ppms:
        shapes.append(dict(type="line", xref=p["ax"], yref="paper", x0=v, x1=v,
                           y0=fy(y_bot), y1=fy(y_top), layer="below",
                           line=dict(color=GRID, width=1, dash=DOT)))


def hgrid(key, rows):
    p = PANELS[key]
    for r in rows:
        shapes.append(dict(type="line", xref="paper", yref="paper",
                           x0=fx(p["x0"]), x1=fx(p["x1"]), y0=fy(r), y1=fy(r), layer="below",
                           line=dict(color=GRID, width=1, dash=DOT)))


vgrid("cp_bs", [260, 200, 140, 80, 20, -40, -100], 52, 432)
hgrid("cp_bs", [78, 126, 176, 224, 273, 336, 384])
vgrid("cp_jp", [260, 200, 140, 80, 20, -40, -100], 15, 432)
hgrid("cp_jp", [52, 89, 140, 188, 235, 336, 384])
vgrid("dp_bs", [260, 180, 100, 20, -60], 610, 1203)
hgrid("dp_bs", [672, 737, 802, 846, 912, 977, 1008, 1073, 1138])
vgrid("dp_jp", [260, 180, 100, 20, -60], 485, 1203)
hgrid("dp_jp", [547, 612, 678, 743, 808, 920, 986, 1073, 1138])

# outer frame
shapes.append(dict(type="rect", xref="paper", yref="paper",
                   x0=fx(5), x1=fx(1057), y0=fy(1337), y1=fy(5),
                   line=dict(color="#555555", width=2)))
fig.update_layout(shapes=shapes)


def label(text, cx, cy, color, size=26.5, family=SERIF):
    fig.add_annotation(text=text, x=fx(cx), y=fy(cy), xref="paper", yref="paper",
                       xanchor="center", yanchor="middle", showarrow=False,
                       font=dict(family=family, size=size, color=color, weight="bold"))


# sample labels
label("H +", 98, 61, T_GREEN)
label("historical BC", 102, 94, T_GREEN)
label("F", 85, 189, T_RED)
label("Fresh BC", 79, 357, T_BLUE)

label("historical BC", 877, 33, T_MAG)
label("H +", 876, 79, T_GREEN)
label("historical BC", 902, 112, T_GREEN)
label("F", 888, 189, T_RED)
label("Fresh BC", 898, 357, T_BLUE)

label("H +", 101, 624, T_GREEN)
label("historical BC", 102, 656, T_GREEN)
label("F", 87, 870, T_RED)
label("Fresh BC", 79, 1064, T_BLUE)

label("historical BC", 876, 603, T_MAG)
label("H +", 899, 716, T_GREEN)
label("historical BC", 899, 748, T_GREEN)
label("F", 890, 871, T_RED)
label("Fresh BC", 898, 1112, T_BLUE)

# axis units
label("[ppm]", 258, 459, "#222222", size=8, family=SANS)
label("[ppm]", 775, 456, "#222222", size=8, family=SANS)
label("[ppm]", 247, 1237, "#222222", size=10, family=SANS)
label("[ppm]", 779, 1238, "#222222", size=10, family=SANS)

# experiment and species titles
label("CP", 1017, 232, "#000000", size=50)
label("DP", 1017, 855, "#000000", size=50)
label("Black spruce", 222, 1287, "#000000", size=45)
label("Jack pine", 725, 1287, "#000000", size=45)

fig.write_html("out.html")
